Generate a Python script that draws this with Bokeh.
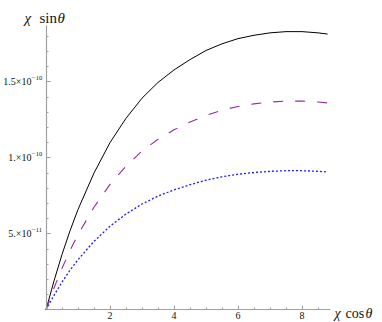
from bokeh.plotting import figure
from bokeh.models import Range1d, LinearAxis, FixedTicker, CustomJSTickFormatter, Label
from bokeh.embed import file_html
from bokeh.resources import INLINE

# ---- data ----
x_vals = [0, 0.25, 0.5, 0.75, 1, 1.5, 2, 2.5, 3, 3.5, 4, 4.5, 5, 5.5, 6, 6.5, 7, 7.5, 8, 8.5, 8.8]
solid = [0, 0.19e-10, 0.364e-10, 0.52e-10, 0.66e-10, 0.90e-10, 1.10e-10, 1.26e-10, 1.392e-10,
         1.496e-10, 1.578e-10, 1.646e-10, 1.706e-10, 1.75e-10, 1.784e-10, 1.806e-10, 1.822e-10,
         1.83e-10, 1.83e-10, 1.822e-10, 1.814e-10]
dashed = [0, 0.143e-10, 0.273e-10, 0.39e-10, 0.495e-10, 0.675e-10, 0.825e-10, 0.945e-10, 1.044e-10,
          1.122e-10, 1.184e-10, 1.235e-10, 1.28e-10, 1.313e-10, 1.338e-10, 1.355e-10, 1.367e-10,
          1.373e-10, 1.373e-10, 1.367e-10, 1.361e-10]
dotted = [0, 0.095e-10, 0.182e-10, 0.26e-10, 0.33e-10, 0.45e-10, 0.55e-10, 0.63e-10, 0.696e-10,
          0.748e-10, 0.789e-10, 0.823e-10, 0.853e-10, 0.875e-10, 0.892e-10, 0.903e-10, 0.911e-10,
          0.915e-10, 0.915e-10, 0.911e-10, 0.907e-10]

x_ticks = [2, 4, 6, 8]
x_minor = [0.5 * i for i in range(1, 18)]
y_ticks = [5e-11, 1e-10, 1.5e-10]
y_tick_mantissa = ["5.\u00d710", "1.\u00d710", "1.5\u00d710"]
y_tick_exponent = ["\u221211", "\u221210", "\u221210"]
y_minor = [1e-11 * i for i in range(1, 19)]

x_title = ["\u03c7", "cos", "\u03b8"]
y_title = ["\u03c7", "sin", "\u03b8"]

SERIF = "Liberation Serif"
AXIS_COLOR = "#a0a0a0"
TEXT_COLOR = "#111111"

# ---- figure (frame covers the whole canvas; axes cross at the origin) ----
W, H = 382, 322
OX, OY = 45.5, 309.3          # origin in canvas pixels
SX, SY = 32.0, 152.0e10       # pixels per data unit
p = figure(width=W, height=H,
           x_range=Range1d(-OX / SX, (W - OX) / SX),
           y_range=Range1d(-(H - OY) / SY, OY / SY),
           x_axis_type=None, y_axis_type=None, output_backend="svg", toolbar_location=None,
           min_border=0, outline_line_color=None,
           background_fill_color="white", border_fill_color="white")
p.xgrid.visible = False
p.ygrid.visible = False

xaxis = LinearAxis(ticker=FixedTicker(ticks=x_ticks, minor_ticks=x_minor), bounds=(0, 8.88),
                   fixed_location=0,
                   axis_line_color=AXIS_COLOR, axis_line_width=1.2,
                   major_tick_line_color=AXIS_COLOR, minor_tick_line_color=AXIS_COLOR,
                   major_tick_in=4, major_tick_out=0, minor_tick_in=2, minor_tick_out=0,
                   major_label_standoff=2, major_label_text_font=SERIF,
                   major_label_text_font_size="10px", major_label_text_color=TEXT_COLOR)
p.add_layout(xaxis, "below")

# y tick labels are drawn as mantissa + raised exponent (Labels below)
no_labels = CustomJSTickFormatter(code="return '';")
yaxis = LinearAxis(ticker=FixedTicker(ticks=y_ticks, minor_ticks=y_minor), bounds=(0, 1.87e-10),
                   fixed_location=0, formatter=no_labels,
                   axis_line_color=AXIS_COLOR, axis_line_width=1.2,
                   major_tick_line_color=AXIS_COLOR, minor_tick_line_color=AXIS_COLOR,
                   major_tick_in=4, major_tick_out=0, minor_tick_in=2, minor_tick_out=0,
                   major_label_standoff=4, major_label_text_font=SERIF,
                   major_label_text_font_size="10px", major_label_text_color=TEXT_COLOR)
p.add_layout(yaxis, "left")

p.line(x_vals, solid, line_color="black", line_width=1)
p.line(x_vals, dashed, line_color="#952a9e", line_width=1.1, line_dash="10 12")
p.line(x_vals, dotted, line_color="#1a1aff", line_width=1.3, line_dash="2 2")

# canvas pixel -> data helpers (for text placement)
def px2x(px):
    return (px - OX) / SX

def px2y(py):
    return (OY - py) / SY

for tv, mant, expo in zip(y_ticks, y_tick_mantissa, y_tick_exponent):
    p.add_layout(Label(x=px2x(31), y=tv, text=mant, text_font=SERIF, text_font_size="10px",
                       text_color=TEXT_COLOR, text_align="right", text_baseline="middle"))
    p.add_layout(Label(x=px2x(31.5), y=tv + 3.5 / SY, text=expo, text_font=SERIF,
                       text_font_size="6.5px", text_color=TEXT_COLOR,
                       text_align="left", text_baseline="middle"))

def title(parts, xs, y, size):
    for t, xp in zip(parts, xs):
        italic = t in ("\u03c7", "\u03b8")
        p.add_layout(Label(x=px2x(xp), y=px2y(y), text=t, text_font=SERIF,
                           text_font_style="italic" if italic else "normal",
                           text_font_size=size, text_color=TEXT_COLOR,
                           text_baseline="alphabetic", text_align="left"))

title(y_title, [24, 39, 57], 17, "15px")
title(x_title, [334, 345, 365], 313, "14px")

open("out.html", "w").write(file_html(p, INLINE))
